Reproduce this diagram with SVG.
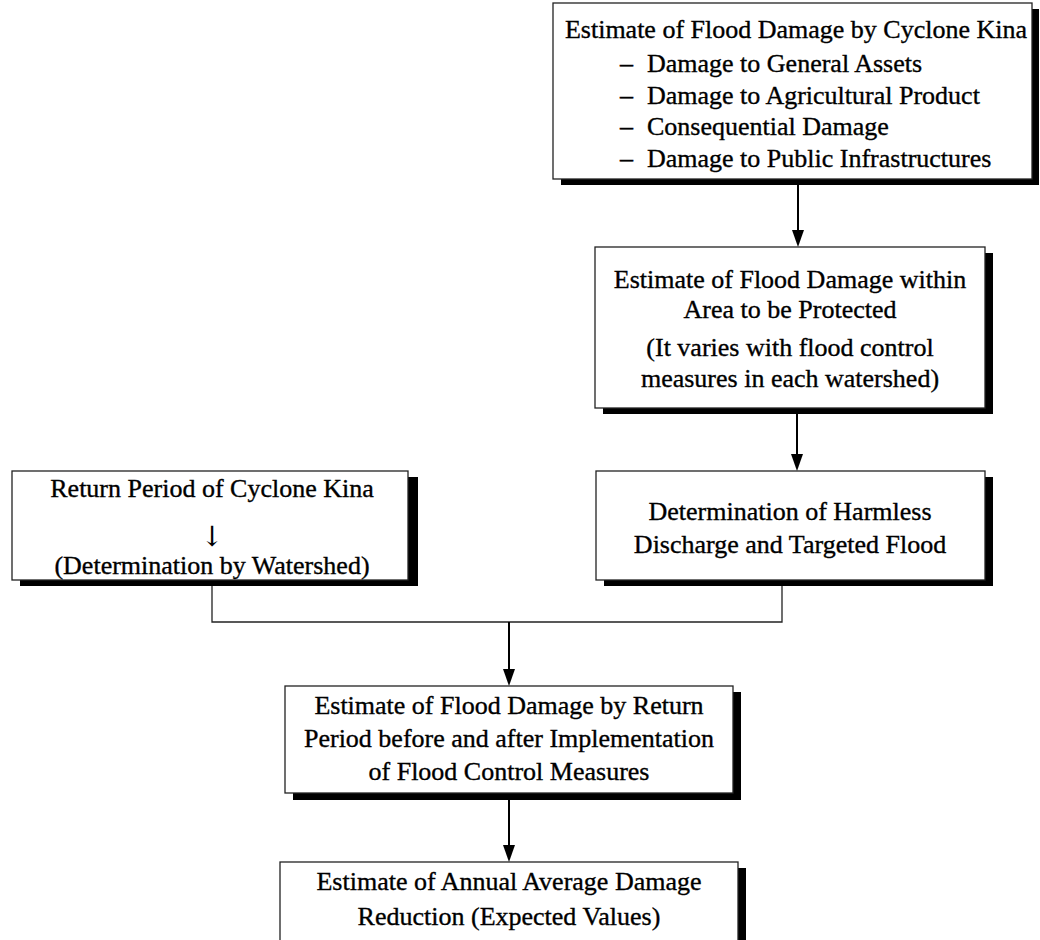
<svg xmlns="http://www.w3.org/2000/svg" width="1040" height="940" viewBox="0 0 1040 940">
<defs>
<style>
.box{fill:#fff;stroke:#222;stroke-width:1.3}
.sh{fill:#000}
.t{font-family:"Liberation Serif","Times New Roman",serif;font-size:26px;fill:#000;stroke:#000;stroke-width:0.35}
.c{text-anchor:middle}
.ln{fill:none;stroke:#000;stroke-width:2}
.thin{fill:none;stroke:#222;stroke-width:1.3}
.ah{fill:#000}
</style>
</defs>
<rect width="1040" height="940" fill="#fff"/>

<g id="connectors">
<line class="ln" x1="798" y1="185" x2="798" y2="232"/>
<polygon class="ah" points="792,230 804,230 798,247"/>
<line class="ln" x1="797" y1="414" x2="797" y2="456"/>
<polygon class="ah" points="791,454 803,454 797,471"/>
<polyline class="thin" points="212,586 212,622 782,622 782,586"/>
<line class="ln" x1="509" y1="622" x2="509" y2="671"/>
<polygon class="ah" points="503,669 515,669 509,686"/>
<line class="ln" x1="509" y1="800" x2="509" y2="847"/>
<polygon class="ah" points="503,845 515,845 509,862"/>
</g>

<g id="n1">
<rect class="sh" x="561" y="9" width="478" height="176"/>
<rect class="box" x="553" y="3" width="479" height="176"/>
<text class="t c" x="796" y="38">Estimate of Flood Damage by Cyclone Kina</text>
<text class="t" x="620" y="72">–</text><text class="t" x="647" y="72">Damage to General Assets</text>
<text class="t" x="620" y="104">–</text><text class="t" x="647" y="104">Damage to Agricultural Product</text>
<text class="t" x="620" y="135">–</text><text class="t" x="647" y="135">Consequential Damage</text>
<text class="t" x="620" y="167">–</text><text class="t" x="647" y="167">Damage to Public Infrastructures</text>
</g>

<g id="n2">
<rect class="sh" x="603" y="253" width="390" height="161"/>
<rect class="box" x="595" y="247" width="390" height="161"/>
<text class="t c" x="790" y="288">Estimate of Flood Damage within</text>
<text class="t c" x="790" y="318">Area to be Protected</text>
<text class="t c" x="790" y="356">(It varies with flood control</text>
<text class="t c" x="790" y="387">measures in each watershed)</text>
</g>

<g id="n3">
<rect class="sh" x="604" y="477" width="389" height="109"/>
<rect class="box" x="596" y="471" width="389" height="109"/>
<text class="t c" x="790" y="520">Determination of Harmless</text>
<text class="t c" x="790" y="553">Discharge and Targeted Flood</text>
</g>

<g id="n4">
<rect class="sh" x="20" y="477" width="398" height="109"/>
<rect class="box" x="12" y="471" width="396" height="109"/>
<text class="t c" x="212" y="497">Return Period of Cyclone Kina</text>
<text class="c" x="212" y="546" style="font-family:'DejaVu Serif',serif;font-size:28px;fill:#000">↓</text>
<text class="t c" x="212" y="574">(Determination by Watershed)</text>
</g>

<g id="n5">
<rect class="sh" x="293" y="692" width="448" height="108"/>
<rect class="box" x="285" y="686" width="448" height="107"/>
<text class="t c" x="509" y="714">Estimate of Flood Damage by Return</text>
<text class="t c" x="509" y="747">Period before and after Implementation</text>
<text class="t c" x="509" y="780">of Flood Control Measures</text>
</g>

<g id="n6">
<rect class="sh" x="288" y="868" width="458" height="90"/>
<rect class="box" x="280" y="862" width="458" height="90"/>
<text class="t c" x="509" y="890">Estimate of Annual Average Damage</text>
<text class="t c" x="509" y="925">Reduction (Expected Values)</text>
</g>
</svg>
